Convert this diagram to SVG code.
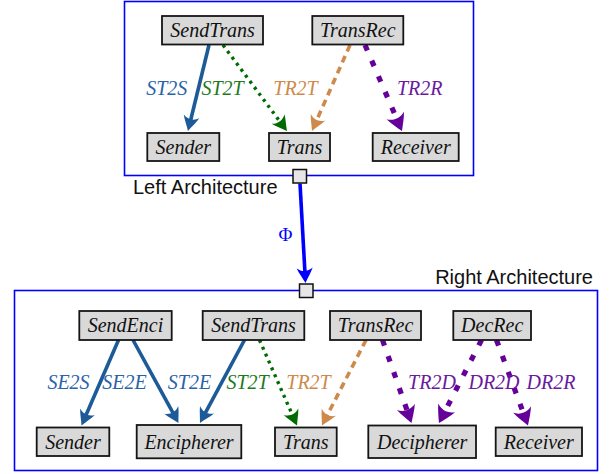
<svg xmlns="http://www.w3.org/2000/svg" width="609" height="474" viewBox="0 0 609 474">
  <style>
    .frame { fill: none; stroke: #0000ff; stroke-width: 1.6; }
    .port { fill: #e6e6e6; stroke: #111; stroke-width: 1.5; }
    .box { fill: #d9d9d9; stroke: #151515; stroke-width: 1.8; }
    .lbl { font-family: "Liberation Serif", "Times New Roman", serif; font-style: italic; font-size: 20px; text-anchor: middle; fill: #111; }
    .cap { font-family: "Liberation Sans", Arial, sans-serif; font-size: 20px; fill: #111; }
    .elbl { font-family: "Liberation Serif", "Times New Roman", serif; font-style: italic; font-size: 20px; text-anchor: middle; }
    .e { fill: none; }
    .blue { stroke: #1c5a98; stroke-width: 3.6; }
    .green { stroke: #006b00; stroke-width: 3.4; stroke-dasharray: 3 4.5; }
    .tan { stroke: #cd8a4a; stroke-width: 3.6; stroke-dasharray: 7 5; }
    .purple { stroke: #65009a; stroke-width: 5.2; stroke-dasharray: 6 11; }
    .phi { stroke: #0000ff; stroke-width: 3.6; }
  </style>
  <defs>
    <!-- barbed arrowhead; tip sits 6px beyond the end of the line -->
    <path id="head" d="M0,0 C-5,-2.5 -10,-6 -15,-8 C-11,-3 -11,3 -15,8 C-10,6 -5,2.5 0,0 Z"/>
    <path id="headBig" d="M0,0 C-5,-3 -11,-7 -17,-9.5 C-12.5,-3.5 -12.5,3.5 -17,9.5 C-11,7 -5,3 0,0 Z"/>
    <marker id="hBlue" viewBox="-20 -11 28 22" refX="-6" refY="0" markerWidth="28" markerHeight="22" orient="auto" markerUnits="userSpaceOnUse">
      <use href="#head" fill="#1c5a98"/>
    </marker>
    <marker id="hPhi" viewBox="-20 -11 28 22" refX="-6" refY="0" markerWidth="28" markerHeight="22" orient="auto" markerUnits="userSpaceOnUse">
      <use href="#head" fill="#0000ff"/>
    </marker>
    <marker id="hGreen" viewBox="-20 -11 28 22" refX="-6" refY="0" markerWidth="28" markerHeight="22" orient="auto" markerUnits="userSpaceOnUse">
      <use href="#head" fill="#006b00"/>
    </marker>
    <marker id="hTan" viewBox="-20 -11 28 22" refX="-6" refY="0" markerWidth="28" markerHeight="22" orient="auto" markerUnits="userSpaceOnUse">
      <use href="#head" fill="#cd8a4a"/>
    </marker>
    <marker id="hPurple" viewBox="-20 -11 28 22" refX="-6" refY="0" markerWidth="28" markerHeight="22" orient="auto" markerUnits="userSpaceOnUse">
      <use href="#headBig" fill="#65009a"/>
    </marker>
  </defs>

  <!-- architecture frames -->
  <g id="left-architecture">
    <rect class="frame" x="124.5" y="1.5" width="349" height="174"/>
    <text class="cap" x="133" y="194">Left Architecture</text>
  </g>
  <g id="right-architecture">
    <rect class="frame" x="14.5" y="290.5" width="583" height="180"/>
    <text class="cap" x="593" y="284" text-anchor="end">Right Architecture</text>
  </g>

  <!-- connectors -->
  <g id="connectors">
    <!-- left architecture -->
    <line class="e blue" x1="209" y1="45" x2="189.4" y2="125.2" marker-end="url(#hBlue)"/>
    <line class="e green" x1="223" y1="45" x2="283.4" y2="126.2" marker-end="url(#hGreen)"/>
    <line class="e tan" x1="350" y1="45" x2="314.4" y2="125.5" marker-end="url(#hTan)"/>
    <line class="e purple" x1="365" y1="45" x2="399.6" y2="125.5" marker-end="url(#hPurple)"/>
    <!-- refinement mapping -->
    <line class="e phi" x1="300" y1="183.5" x2="305.2" y2="277" marker-end="url(#hPhi)"/>
    <!-- right architecture -->
    <line class="e blue" x1="118.5" y1="340" x2="83.9" y2="420" marker-end="url(#hBlue)"/>
    <line class="e blue" x1="133" y1="340" x2="175.6" y2="417.7" marker-end="url(#hBlue)"/>
    <line class="e blue" x1="244.5" y1="340" x2="202.8" y2="417.7" marker-end="url(#hBlue)"/>
    <line class="e green" x1="259.5" y1="340" x2="294.6" y2="420" marker-end="url(#hGreen)"/>
    <line class="e tan" x1="366" y1="340" x2="324.7" y2="420.2" marker-end="url(#hTan)"/>
    <line class="e purple" x1="382.5" y1="340" x2="409.5" y2="417.3" marker-end="url(#hPurple)"/>
    <line class="e purple" x1="481.5" y1="340" x2="441.7" y2="417.7" marker-end="url(#hPurple)"/>
    <line class="e purple" x1="496.5" y1="340" x2="525.9" y2="419.9" marker-end="url(#hPurple)"/>

    <!-- connector labels -->
    <text class="elbl" x="166.7" y="95" fill="#2a62a8">ST2S</text>
    <text class="elbl" x="222.5" y="95" fill="#1f7a1f">ST2T</text>
    <text class="elbl" x="295.5" y="95" fill="#cd8a4a">TR2T</text>
    <text class="elbl" x="419.7" y="95" fill="#6a1a9e">TR2R</text>
    <text x="285.5" y="241" font-family="'Liberation Serif', 'Times New Roman', serif" font-size="19" text-anchor="middle" fill="#0000ff">Φ</text>
    <text class="elbl" x="68.5" y="389" fill="#2a62a8">SE2S</text>
    <text class="elbl" x="124.5" y="389" fill="#2a62a8">SE2E</text>
    <text class="elbl" x="189.5" y="389" fill="#2a62a8">ST2E</text>
    <text class="elbl" x="247.5" y="389" fill="#1f7a1f">ST2T</text>
    <text class="elbl" x="308.5" y="389" fill="#cd8a4a">TR2T</text>
    <text class="elbl" x="432" y="389" fill="#6a1a9e">TR2D</text>
    <text class="elbl" x="494" y="389" fill="#6a1a9e">DR2D</text>
    <text class="elbl" x="551" y="389" fill="#6a1a9e">DR2R</text>
  </g>

  <!-- ports -->
  <g id="port-left"><rect class="port" x="293" y="169.5" width="13.5" height="13.5"/></g>
  <g id="port-right"><rect class="port" x="299.5" y="284" width="13.5" height="13.5"/></g>

  <!-- left architecture components -->
  <g id="L-SendTrans"><rect class="box" x="162" y="16" width="101" height="28.5"/><text class="lbl" x="212.5" y="37">SendTrans</text></g>
  <g id="L-TransRec"><rect class="box" x="312.3" y="16" width="91" height="28.5"/><text class="lbl" x="357.8" y="37">TransRec</text></g>
  <g id="L-Sender"><rect class="box" x="147.3" y="133" width="72" height="28"/><text class="lbl" x="183.3" y="153.5">Sender</text></g>
  <g id="L-Trans"><rect class="box" x="269" y="133" width="61" height="28"/><text class="lbl" x="299.5" y="153.5">Trans</text></g>
  <g id="L-Receiver"><rect class="box" x="372.7" y="133" width="86" height="28"/><text class="lbl" x="415.7" y="153.5">Receiver</text></g>

  <!-- right architecture components -->
  <g id="R-SendEnci"><rect class="box" x="79.3" y="311" width="92.4" height="29"/><text class="lbl" x="125.5" y="332">SendEnci</text></g>
  <g id="R-SendTrans"><rect class="box" x="202.7" y="311" width="101.6" height="29"/><text class="lbl" x="253.5" y="332">SendTrans</text></g>
  <g id="R-TransRec"><rect class="box" x="330" y="311" width="91" height="29"/><text class="lbl" x="375.5" y="332">TransRec</text></g>
  <g id="R-DecRec"><rect class="box" x="453.3" y="311" width="77.7" height="29"/><text class="lbl" x="492.2" y="332">DecRec</text></g>
  <g id="R-Sender"><rect class="box" x="36.7" y="427.5" width="72.6" height="28.5"/><text class="lbl" x="73" y="448.5">Sender</text></g>
  <g id="R-Encipherer"><rect class="box" x="136.7" y="425" width="104.6" height="33.3"/><text class="lbl" x="189" y="448.5">Encipherer</text></g>
  <g id="R-Trans"><rect class="box" x="275" y="427.5" width="61.7" height="28.5"/><text class="lbl" x="305.8" y="448.5">Trans</text></g>
  <g id="R-Decipherer"><rect class="box" x="368.3" y="425.5" width="107.7" height="32.5"/><text class="lbl" x="422.2" y="448.5">Decipherer</text></g>
  <g id="R-Receiver"><rect class="box" x="495.7" y="427.5" width="86.3" height="28.5"/><text class="lbl" x="538.8" y="448.5">Receiver</text></g>
</svg>
